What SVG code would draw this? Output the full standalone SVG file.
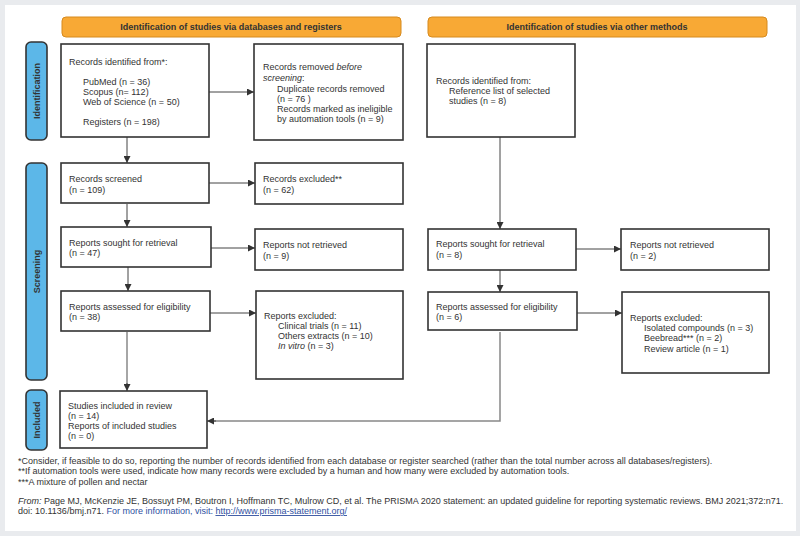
<svg xmlns="http://www.w3.org/2000/svg" width="800" height="536" viewBox="0 0 800 536">
<defs>
<marker id="ah" viewBox="0 0 10 10" refX="10" refY="5" markerWidth="7" markerHeight="7" markerUnits="userSpaceOnUse" orient="auto">
<path d="M0,0 L10,5 L0,10 z" fill="#333"/>
</marker>
<style>
.t{font-family:"Liberation Sans",Arial,sans-serif;font-size:9px;fill:#333}
.hb{font-family:"Liberation Sans",Arial,sans-serif;font-size:9px;font-weight:bold;fill:#333}
.box{fill:#fff;stroke:#333;stroke-width:1.6}
.hdr{fill:#f8a935;stroke:#d68a1e;stroke-width:1}
.side{fill:#5cb7e8;stroke:#333;stroke-width:1.6}
.c{fill:none;stroke:#444;stroke-width:1;marker-end:url(#ah)}
.g{fill:none;stroke:#888;stroke-width:1.5}
.f{font-family:"Liberation Sans",Arial,sans-serif;font-size:9px;fill:#333}
</style>
</defs>
<rect x="0" y="0" width="800" height="536" fill="#e9ebee"/>
<rect x="5" y="5" width="791" height="526" fill="#fff"/>

<g id="hdr-left"><rect class="hdr" x="62" y="17" width="339" height="20" rx="4"/><text class="hb" x="231" y="30" text-anchor="middle">Identification of studies via databases and registers</text></g>
<g id="hdr-right"><rect class="hdr" x="428" y="17" width="339" height="20" rx="4"/><text class="hb" x="597" y="30" text-anchor="middle">Identification of studies via other methods</text></g>

<g id="side-identification"><rect class="side" x="26" y="42" width="21" height="98" rx="5"/><text class="hb" transform="translate(40,91) rotate(-90)" text-anchor="middle">Identification</text></g>
<g id="side-screening"><rect class="side" x="26" y="163" width="21" height="217" rx="5"/><text class="hb" transform="translate(40,271.5) rotate(-90)" text-anchor="middle">Screening</text></g>
<g id="side-included"><rect class="side" x="26" y="390" width="21" height="60" rx="5"/><text class="hb" transform="translate(40,420) rotate(-90)" text-anchor="middle">Included</text></g>

<g id="connectors">
<line class="c" x1="209" y1="92" x2="254" y2="92"/>
<line class="c" x1="127" y1="137" x2="127" y2="163"/>
<line class="c" x1="209" y1="183" x2="255" y2="183"/>
<line class="c" x1="127" y1="204" x2="127" y2="227"/>
<line class="c" x1="211" y1="248" x2="255" y2="248"/>
<line class="c" x1="128" y1="267" x2="128" y2="291"/>
<line class="c" x1="210" y1="313" x2="256" y2="313"/>
<line class="g" x1="127" y1="332" x2="127" y2="385"/>
<line class="c" x1="127" y1="383" x2="127" y2="391"/>
<line class="c" x1="500" y1="137" x2="500" y2="229"/>
<line class="c" x1="576" y1="249" x2="621" y2="249"/>
<line class="c" x1="500" y1="270" x2="500" y2="292"/>
<line class="c" x1="577" y1="313" x2="622" y2="313"/>
<polyline class="g" points="500,332 500,421 214,421"/>
<line class="c" x1="216" y1="421" x2="207" y2="421"/>
</g>

<g id="n-records-identified"><rect class="box" x="61" y="44" width="148" height="93"/>
<text class="t" x="69" y="64.5">Records identified from*:</text>
<text class="t" x="83" y="84.5">PubMed (n = 36)</text>
<text class="t" x="83" y="94.5">Scopus (n= 112)</text>
<text class="t" x="83" y="104.5">Web of Science (n = 50)</text>
<text class="t" x="83" y="124.5">Registers (n = 198)</text></g>

<g id="n-records-removed"><rect class="box" x="254" y="44" width="149" height="96"/>
<text class="t" x="263" y="70">Records removed <tspan font-style="italic">before</tspan></text>
<text class="t" x="263" y="81"><tspan font-style="italic">screening</tspan>:</text>
<text class="t" x="277" y="91.5">Duplicate records removed</text>
<text class="t" x="277" y="101.5">(n = 76 )</text>
<text class="t" x="277" y="111.5">Records marked as ineligible</text>
<text class="t" x="277" y="121.5">by automation tools (n = 9)</text></g>

<g id="n-other-identified"><rect class="box" x="427" y="44" width="148" height="93"/>
<text class="t" x="436" y="84">Records identified from:</text>
<text class="t" x="449" y="94">Reference list of selected</text>
<text class="t" x="449" y="104">studies (n = 8)</text></g>

<g id="n-records-screened"><rect class="box" x="61" y="163" width="148" height="40"/>
<text class="t" x="69" y="181.5">Records screened</text>
<text class="t" x="69" y="192.5">(n = 109)</text></g>

<g id="n-records-excluded"><rect class="box" x="255" y="163" width="148" height="41"/>
<text class="t" x="263" y="182">Records excluded**</text>
<text class="t" x="263" y="193">(n = 62)</text></g>

<g id="n-reports-sought"><rect class="box" x="61" y="227" width="150" height="40"/>
<text class="t" x="69" y="245.5">Reports sought for retrieval</text>
<text class="t" x="69" y="256">(n = 47)</text></g>

<g id="n-reports-not-retrieved"><rect class="box" x="255" y="229" width="148" height="41"/>
<text class="t" x="263" y="248">Reports not retrieved</text>
<text class="t" x="263" y="258.5">(n = 9)</text></g>

<g id="n-reports-assessed"><rect class="box" x="61" y="291" width="149" height="40"/>
<text class="t" x="69" y="310">Reports assessed for eligibility</text>
<text class="t" x="69" y="320">(n = 38)</text></g>

<g id="n-reports-excluded"><rect class="box" x="256" y="291" width="147" height="88"/>
<text class="t" x="264" y="318.5">Reports excluded:</text>
<text class="t" x="278" y="328.5">Clinical trials (n = 11)</text>
<text class="t" x="278" y="338.5">Others extracts (n = 10)</text>
<text class="t" x="278" y="349"><tspan font-style="italic">In vitro</tspan> (n = 3)</text></g>

<g id="n-studies-included"><rect class="box" x="60" y="391" width="147" height="57"/>
<text class="t" x="68" y="408.5">Studies included in review</text>
<text class="t" x="68" y="418.5">(n = 14)</text>
<text class="t" x="68" y="428.5">Reports of included studies</text>
<text class="t" x="68" y="438.5">(n = 0)</text></g>

<g id="n-other-sought"><rect class="box" x="428" y="229" width="148" height="41"/>
<text class="t" x="436" y="246.5">Reports sought for retrieval</text>
<text class="t" x="436" y="258">(n = 8)</text></g>

<g id="n-other-not-retrieved"><rect class="box" x="621" y="229" width="148" height="41"/>
<text class="t" x="630" y="247.5">Reports not retrieved</text>
<text class="t" x="630" y="258.5">(n = 2)</text></g>

<g id="n-other-assessed"><rect class="box" x="428" y="292" width="149" height="38"/>
<text class="t" x="436" y="309.5">Reports assessed for eligibility</text>
<text class="t" x="436" y="319.5">(n = 6)</text></g>

<g id="n-other-excluded"><rect class="box" x="622" y="292" width="147" height="81"/>
<text class="t" x="630" y="321">Reports excluded:</text>
<text class="t" x="644" y="331">Isolated compounds (n = 3)</text>
<text class="t" x="644" y="341">Beebread*** (n = 2)</text>
<text class="t" x="644" y="351.5">Review article (n = 1)</text></g>

<g id="footer">
<text class="f" x="18" y="464">*Consider, if feasible to do so, reporting the number of records identified from each database or register searched (rather than the total number across all databases/registers).</text>
<text class="f" x="18" y="474">**If automation tools were used, indicate how many records were excluded by a human and how many were excluded by automation tools.</text>
<text class="f" x="18" y="485">***A mixture of pollen and nectar</text>
<text class="f" x="18" y="504"><tspan font-style="italic">From: </tspan> Page MJ, McKenzie JE, Bossuyt PM, Boutron I, Hoffmann TC, Mulrow CD, et al. The PRISMA 2020 statement: an updated guideline for reporting systematic reviews. BMJ 2021;372:n71.</text>
<text class="f" x="18" y="514">doi: 10.1136/bmj.n71. <tspan fill="#2f4f9f">For more information, visit: </tspan><tspan fill="#2f4f9f" text-decoration="underline">http://www.prisma-statement.org/</tspan></text>
</g>
</svg>
